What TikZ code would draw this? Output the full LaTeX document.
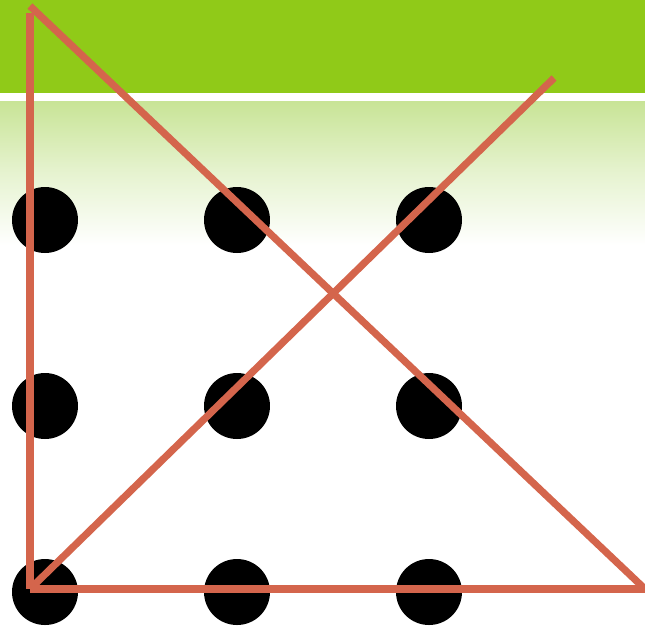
\documentclass[tikz,border=0pt]{standalone}
\usepackage{tikz}
\usetikzlibrary{positioning, calc}

\definecolor{bandgreen}{RGB}{144,202,24}
\definecolor{palegreen}{RGB}{200,228,150}
\definecolor{linered}{RGB}{212,101,76}

\begin{document}
\begin{tikzpicture}[
    x=0.02cm, y=-0.02cm,
    dot/.style={circle, fill=black, inner sep=0pt, minimum size=1.32cm},
    stroke/.style={draw=linered, line width=4.1pt}
]

% Hintergrund
\useasboundingbox (0,0) rectangle (645,627);
\fill[white] (0,0) rectangle (645,627);
\fill[bandgreen] (0,0) rectangle (645,93);
\shade[top color=palegreen, bottom color=white, middle color=palegreen!45] (0,101) rectangle (645,245);

% Punkte
\node[dot] (p11) at (45,220) {};
\node[dot] (p12) at (237,220) {};
\node[dot] (p13) at (429,220) {};
\node[dot] (p21) at (45,406) {};
\node[dot] (p22) at (237,406) {};
\node[dot] (p23) at (429,406) {};
\node[dot] (p31) at (45,592) {};
\node[dot] (p32) at (237,592) {};
\node[dot] (p33) at (429,592) {};

% Eckpunkte der Linien
\coordinate (top) at (30,13);
\coordinate (apex) at (30,6);
\coordinate (corner) at (30,589);
\coordinate (right) at (645,589);
\coordinate (tip) at (554,78);

% Linien
\draw[stroke] (top) -- (corner);
\draw[stroke] (apex) -- (right);
\draw[stroke] (corner) -- (right);
\draw[stroke] (corner) -- (tip);

\end{tikzpicture}
\end{document}
